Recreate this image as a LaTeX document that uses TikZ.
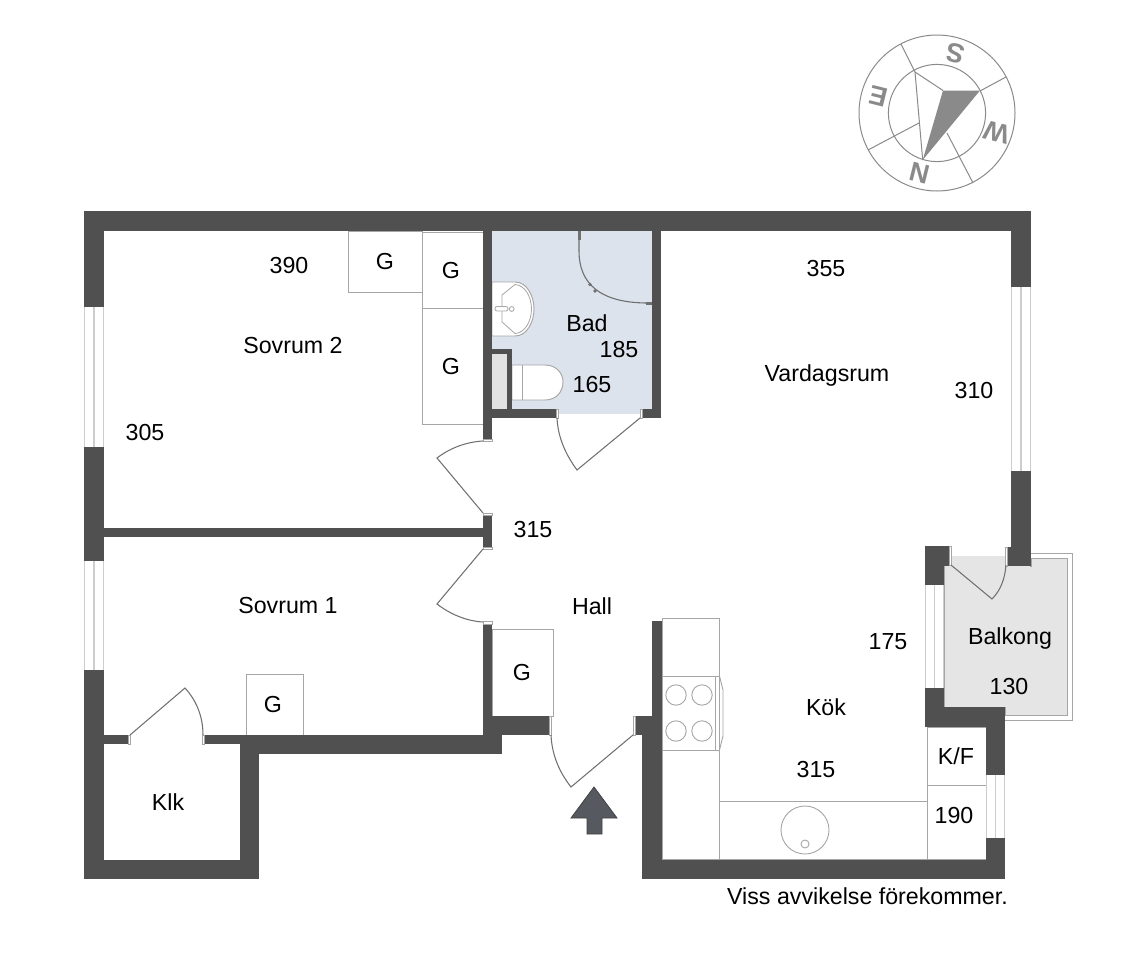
\documentclass[tikz,border=0pt]{standalone}
\usepackage{fontspec}
\setmainfont{Liberation Sans}
\definecolor{wallc}{HTML}{505050}
\definecolor{thinc}{HTML}{A6A6A6}
\definecolor{winc}{HTML}{CDCDCD}
\definecolor{bathc}{HTML}{DCE3EC}
\definecolor{balc}{HTML}{E5E5E5}
\definecolor{shaftc}{HTML}{E2E2E2}
\definecolor{doorc}{HTML}{707070}
\definecolor{compc}{HTML}{8A8A8A}
\definecolor{arrowc}{HTML}{565A60}
\tikzset{
  wall/.style={fill=wallc,draw=none},
  fixture/.style={draw=thinc,line width=.95pt,fill=white},
  door/.style={draw=doorc,line width=1.05pt},
  jamb/.style={draw=thinc,line width=.8pt,fill=white},
  lbl/.style={font=\fontsize{23.2}{26}\selectfont,text=black,inner sep=0pt,text depth=0pt,yshift=-.4pt},
  comp/.style={draw=compc,line width=1pt},
  cletter/.style={font=\fontsize{27}{29}\selectfont\bfseries,text=compc,inner sep=0pt,rotate=166}
}
\begin{document}
\begin{tikzpicture}[x=1pt,y=-1pt]
\useasboundingbox (0,0) rectangle (1130,953);
\fill[white] (0,0) rectangle (1130,953);
% bath and balcony floors
\fill[bathc] (492,231) rectangle (652,414);
\draw[thinc,line width=.9pt] (1031,553) -- (1072,553) -- (1072,720) -- (1005,720);
\draw[thinc,line width=.9pt,fill=balc] (1031,558) -- (1067,558) -- (1067,715) -- (1005,715) -- (1005,707) -- (944,707) -- (944,566) -- (951,566) -- (951,556) -- (1007,556) -- (1007,566) -- (1031,566) -- cycle;
\fill[balc] (945,566) rectangle (1030,706);
\fill[balc] (951,556) rectangle (1007,567);
% closets
\draw[fixture] (348,231) rectangle (422,292);
\draw[fixture] (422,232) rectangle (483,308);
\draw[fixture] (422,308) rectangle (483,424);
\draw[fixture] (246,674) rectangle (303,735);
\draw[fixture] (492,629) rectangle (553,716);
% kitchen fittings
\draw[fixture] (662,618) rectangle (719.5,676);
\draw[fixture] (662,750) rectangle (719.5,859);
\draw[fixture] (719,801) rectangle (927,859);
\draw[fixture] (927,727) rectangle (986,785);
\draw[fixture] (927,785) rectangle (986,859);
\draw[fixture] (662,676) rectangle (719.5,750);
\draw[thinc,line width=.9pt] (715,676) -- (715,750);
\draw[thinc,line width=.9pt] (719.5,676) -- (723,690) -- (723,736) -- (719.5,750);
\foreach \cx/\cy in {676/695,702/695,676/731,702/731}
  \draw[thinc,line width=.9pt] (\cx,\cy) circle[radius=10.2];
\draw[thinc,line width=.9pt] (805,830) circle[radius=24];
\draw[thinc,line width=.9pt] (805,844) circle[radius=4];
% basin
\draw[fixture] (492,282) -- (515,282) .. controls (527,282) and (534,296) .. (534,309) .. controls (534,322) and (527,336) .. (515,336) -- (492,336) -- cycle;
\draw[thinc,line width=.8pt] (515,284.5) .. controls (525,285) and (531.5,297) .. (531.5,309) .. controls (531.5,321) and (525,333) .. (515,333.5) -- (502,322) -- (502,295) -- cycle;
\draw[thinc,line width=.8pt,fill=white,rounded corners=2pt] (495,306.5) rectangle (508,311);
\draw[thinc,line width=.8pt,fill=white] (511.7,309) circle[radius=2.4];
% toilet
\draw[fixture] (512,365) -- (545,365) .. controls (556,365) and (563,373) .. (563,382) .. controls (563,392) and (556,400) .. (545,400) -- (512,400) -- cycle;
\draw[thinc,line width=.9pt] (522,365) -- (522,400);
% shaft
\fill[shaftc] (492,354) rectangle (507,409);
% walls
\fill[wall] (84,211) rectangle (1031,231);
\fill[wall] (84,211) rectangle (104,307);
\fill[wall] (84,447) rectangle (104,561);
\fill[wall] (84,670) rectangle (104,879);
\fill[wall] (84,860) rectangle (259,879);
\fill[wall] (240,735) rectangle (259,879);
\fill[wall] (104,735) rectangle (130,744);
\fill[wall] (203,735) rectangle (240,744);
\fill[wall] (240,735) rectangle (502,754);
\fill[wall] (104,528) rectangle (483,537);
\fill[wall] (483,231) rectangle (492,441);
\fill[wall] (483,513) rectangle (492,549);
\fill[wall] (483,622) rectangle (492,735);
\fill[wall] (492,716) rectangle (550,735);
\fill[wall] (652,231) rectangle (661,418);
\fill[wall] (492,409) rectangle (557,418);
\fill[wall] (640,409) rectangle (661,418);
\fill[wall] (492,349) rectangle (512,354);
\fill[wall] (507,349) rectangle (512,409);
\fill[wall] (1011,211) rectangle (1031,287);
\fill[wall] (1011,471) rectangle (1031,547);
\fill[wall] (1007,547) rectangle (1031,566);
\fill[wall] (925,546) rectangle (949,566);
\fill[wall] (925,566) rectangle (944,585);
\fill[wall] (925,688) rectangle (944,727);
\fill[wall] (925,707) rectangle (1005,727);
\fill[wall] (986,707) rectangle (1005,775);
\fill[wall] (986,838) rectangle (1005,879);
\fill[wall] (642,860) rectangle (1005,879);
\fill[wall] (642,735) rectangle (662,879);
\fill[wall] (633,716) rectangle (662,735);
\fill[wall] (652,621) rectangle (662,716);
% windows
\foreach \xa/\xb/\ya/\yb in {84/104/307/447,84/104/561/670,1011/1031/287/471,925/944/585/688,986/1005/775/838}{
  \fill[white] (\xa,\ya) rectangle (\xb,\yb);
  \draw[winc,line width=1.3pt] (\xa+.6,\ya) -- (\xa+.6,\yb);
  \draw[winc,line width=1.3pt] ({(\xa+\xb)/2},\ya) -- ({(\xa+\xb)/2},\yb);
  \draw[winc,line width=1.3pt] (\xb-.6,\ya) -- (\xb-.6,\yb);
}
% door jambs
\draw[jamb] (483,439) rectangle (492,441.5);
\draw[jamb] (483,513) rectangle (492,515.5);
\draw[jamb] (483,547) rectangle (492,549.5);
\draw[jamb] (483,621.5) rectangle (492,624);
\draw[jamb] (556,409) rectangle (558.5,418);
\draw[jamb] (640,409) rectangle (642.5,418);
\draw[jamb] (549,716) rectangle (551.5,735);
\draw[jamb] (633,716) rectangle (635.5,735);
\draw[jamb] (128,735) rectangle (130.5,744);
\draw[jamb] (202,735) rectangle (204.5,744);
\draw[jamb] (949,546) rectangle (951.5,565);
\draw[jamb] (1005,547) rectangle (1007.5,566);
% doors
\draw[door] (640,418) -- (577,470) .. controls (566,455) and (558,438) .. (557,418);
\draw[door] (483,513) -- (437,458) .. controls (450,448) and (466,442) .. (483,441);
\draw[door] (483,549) -- (437,604) .. controls (450,614) and (466,621) .. (483,622);
\draw[door] (633,735) -- (571,787) .. controls (560,773) and (552,756) .. (551,735);
\draw[door] (130,735) -- (185,688) .. controls (196,700) and (203,716) .. (203,735);
\draw[door] (951,565) -- (992,599) .. controls (1001,590) and (1005,578) .. (1006,565);
% shower
\draw[doorc,line width=1.1pt] (579,240) -- (579,251) .. controls (579,282) and (598,303) .. (648,303);
\fill[doorc] (577.5,231) rectangle (580.5,240);
\fill[doorc] (646,301.5) rectangle (652,304.5);
\fill[doorc] (590,284.5) circle[radius=1.8];
\fill[doorc] (595,291) circle[radius=1.8];
% entrance arrow
\draw[fill=arrowc,draw=black!75,line width=.8pt] (594,787) -- (617,818) -- (602,818) -- (602,834) -- (587,834) -- (587,818) -- (571,818) -- cycle;
% compass
\draw[comp] (937,113) circle[radius=78];
\draw[comp] (937,113) circle[radius=48.6];
\fill[compc] (943,90.5) -- (980,90.5) -- (922.7,160) -- cycle;
\draw[comp] (901,44) -- (915,72);
\draw[comp] (1006,77) -- (980,91);
\draw[comp] (868,150) -- (919,123);
\draw[comp] (973,183) -- (947,133);
\draw[comp] (915,72) -- (943,90.5);
\draw[comp] (915,72) -- (922.7,160);
\node[cletter] (s) at (956,53) {S};
\node[cletter] (w) at (997,132.5) {W};
\node[cletter] (n) at (920,173.5) {N};
\node[cletter] (e) at (878.5,96.5) {E};
% labels
\node[lbl] (t1) at (289,265) {390};
\node[lbl] (t2) at (385,261) {G};
\node[lbl] (t3) at (451,270) {G};
\node[lbl] (t4) at (451,366) {G};
\node[lbl] (t5) at (293,345) {Sovrum 2};
\node[lbl] (t6) at (145,432) {305};
\node[lbl] (t7) at (587,323) {Bad};
\node[lbl] (t8) at (619,349) {185};
\node[lbl] (t9) at (592,384) {165};
\node[lbl] (t10) at (826,268) {355};
\node[lbl] (t11) at (827,373) {Vardagsrum};
\node[lbl] (t12) at (974,390) {310};
\node[lbl] (t13) at (533,529) {315};
\node[lbl] (t14) at (592,606) {Hall};
\node[lbl] (t15) at (288,605) {Sovrum 1};
\node[lbl] (t16) at (273,704) {G};
\node[lbl] (t17) at (522,672) {G};
\node[lbl] (t18) at (168,802) {Klk};
\node[lbl] (t19) at (826,707) {Kök};
\node[lbl] (t20) at (888,641) {175};
\node[lbl] (t21) at (1010,636) {Balkong};
\node[lbl] (t22) at (1009,686) {130};
\node[lbl] (t23) at (816,769) {315};
\node[lbl] (t24) at (956,756) {K/F};
\node[lbl] (t25) at (954,815) {190};
\node[lbl] (t26) at (867.5,896) {Viss avvikelse förekommer.};
\end{tikzpicture}
\end{document}
